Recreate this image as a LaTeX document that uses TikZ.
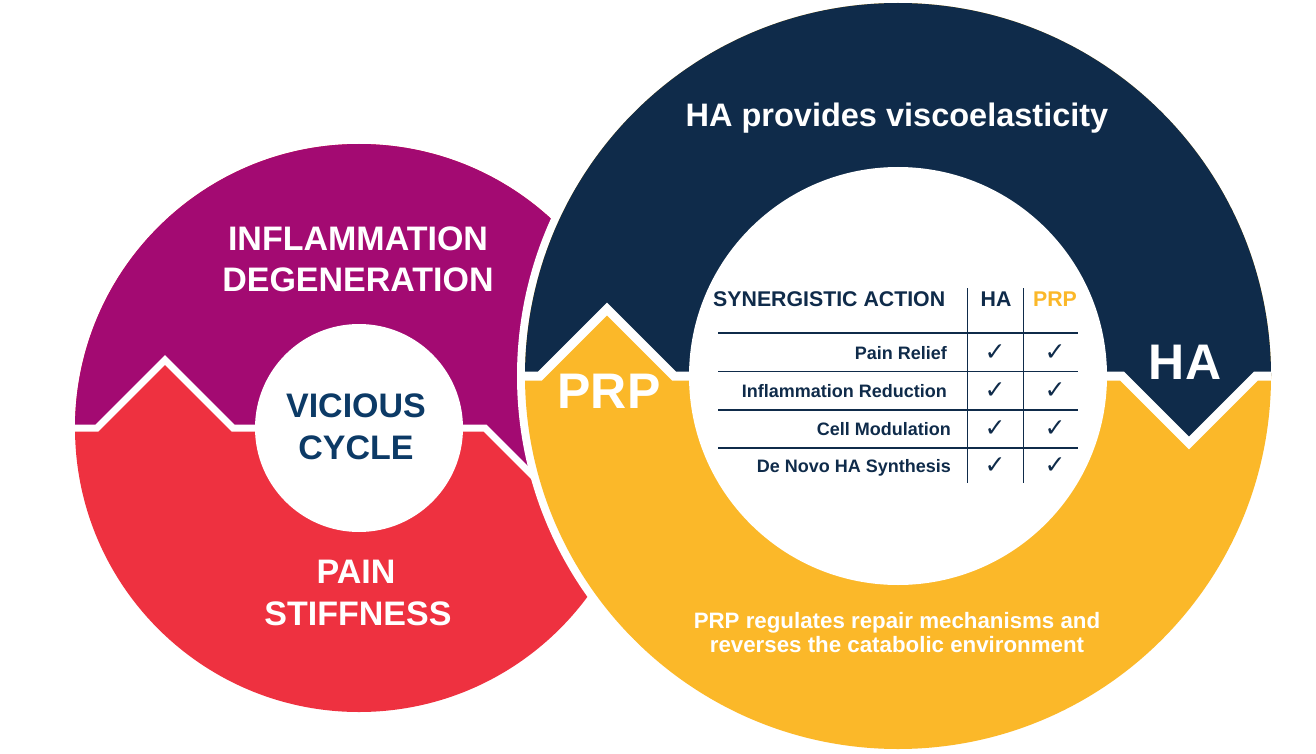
\documentclass[tikz,border=0pt]{standalone}
\usepackage{fontspec}
\setmainfont{Liberation Sans}
\newfontfamily\checkfont{DejaVu Sans}
\definecolor{ringpurple}{HTML}{A30A72}
\definecolor{ringred}{HTML}{EE3140}
\definecolor{ringnavy}{HTML}{0F2B4A}
\definecolor{ringyellow}{HTML}{FBB829}
\definecolor{cyclenavy}{HTML}{0C3A66}
\begin{document}
\begin{tikzpicture}[x=1pt,y=-1pt,
  lbl/.style={anchor=base,inner sep=0pt,text=white,font=\fontsize{34}{40}\selectfont\bfseries},
  biglbl/.style={lbl,font=\fontsize{50}{56}\selectfont\bfseries},
  smalllbl/.style={lbl,font=\fontsize{22.3}{26}\selectfont\bfseries},
  tabhead/.style={anchor=base,inner sep=0pt,text=ringnavy,font=\fontsize{21.3}{24}\selectfont\bfseries},
  tabrow/.style={anchor=base east,inner sep=0pt,text=ringnavy,font=\fontsize{18}{22}\selectfont\bfseries},
  tick/.style={anchor=base,inner sep=0pt,text=ringnavy,font=\fontsize{25}{28}\checkfont},
  tabline/.style={draw=ringnavy,line width=1.4pt}]
\useasboundingbox (0,0) rectangle (1316,754);
% vicious cycle
\fill [ringred] (359,428) circle [radius=284pt];
\begin{scope}
\clip (359,428) circle [radius=284pt];
\fill [ringpurple] (60,428) -- (97,428) -- (165,360) -- (233,428) -- (485,428) -- (553,496) -- (621,428) -- (660,428) -- (660,130) -- (60,130) -- cycle;
\draw [white,line width=7pt] (60,428) -- (97,428) -- (165,360) -- (233,428) -- (485,428) -- (553,496) -- (621,428) -- (660,428);
\end{scope}
\fill [white] (359,428) circle [radius=104pt];
% HA / PRP ring
\fill [white] (898,376) circle [radius=381pt];
\fill [ringyellow] (898,376) circle [radius=373pt];
\begin{scope}
\clip (898,376) circle [radius=373pt];
\fill [ringnavy] (500,376) -- (540,376) -- (607,309) -- (674,376) -- (1122,376) -- (1189,443) -- (1256,376) -- (1300,376) -- (1300,-10) -- (500,-10) -- cycle;
\draw [white,line width=9pt] (500,376) -- (540,376) -- (607,309) -- (674,376) -- (1122,376) -- (1189,443) -- (1256,376) -- (1300,376);
\end{scope}
\fill [white] (898,376) circle [radius=209pt];
%
\node [lbl] (v1) at (358,250) {INFLAMMATION};
\node [lbl] (v2) at (358,291) {DEGENERATION};
\node [lbl,text=cyclenavy] (v3) at (356,417) {VICIOUS};
\node [lbl,text=cyclenavy] (v4) at (356,459) {CYCLE};
\node [lbl] (v5) at (356,583) {PAIN};
\node [lbl] (v6) at (358,625) {STIFFNESS};
%
\node [lbl,font=\fontsize{32.5}{38}\selectfont\bfseries] (v7) at (897,127) {HA provides viscoelasticity};
\node [biglbl] (v8) at (1185,379) {HA};
\node [biglbl] (v9) at (609,408) {PRP};
\node [smalllbl] (v10) at (897,628) {PRP regulates repair mechanisms and};
\node [smalllbl] (v11) at (897,652) {reverses the catabolic environment};
%
\node [tabhead,anchor=base west] (h1) at (713,306) {SYNERGISTIC ACTION};
\node [tabhead] (h2) at (996,306) {HA};
\node [tabhead,text=ringyellow] (h3) at (1055,306) {PRP};
\node [tabrow] (r1) at (947,359) {Pain Relief};
\node [tabrow] (r2) at (947,397) {Inflammation Reduction};
\node [tabrow] (r3) at (951,435) {Cell Modulation};
\node [tabrow] (r4) at (951,472) {De Novo HA Synthesis};
\node [tick] (c1) at (995,360) {✓};
\node [tick] (c2) at (1055,360) {✓};
\node [tick] (c3) at (995,398) {✓};
\node [tick] (c4) at (1055,398) {✓};
\node [tick] (c5) at (995,436) {✓};
\node [tick] (c6) at (1055,436) {✓};
\node [tick] (c7) at (995,473) {✓};
\node [tick] (c8) at (1055,473) {✓};
%
\draw [tabline] (718,333) -- (1078,333);
\draw [tabline] (718,371.5) -- (1078,371.5);
\draw [tabline] (718,410) -- (1078,410);
\draw [tabline] (718,448) -- (1078,448);
\draw [tabline] (967.5,288) -- (967.5,483);
\draw [tabline] (1023.5,288) -- (1023.5,483);
\end{tikzpicture}
\end{document}
